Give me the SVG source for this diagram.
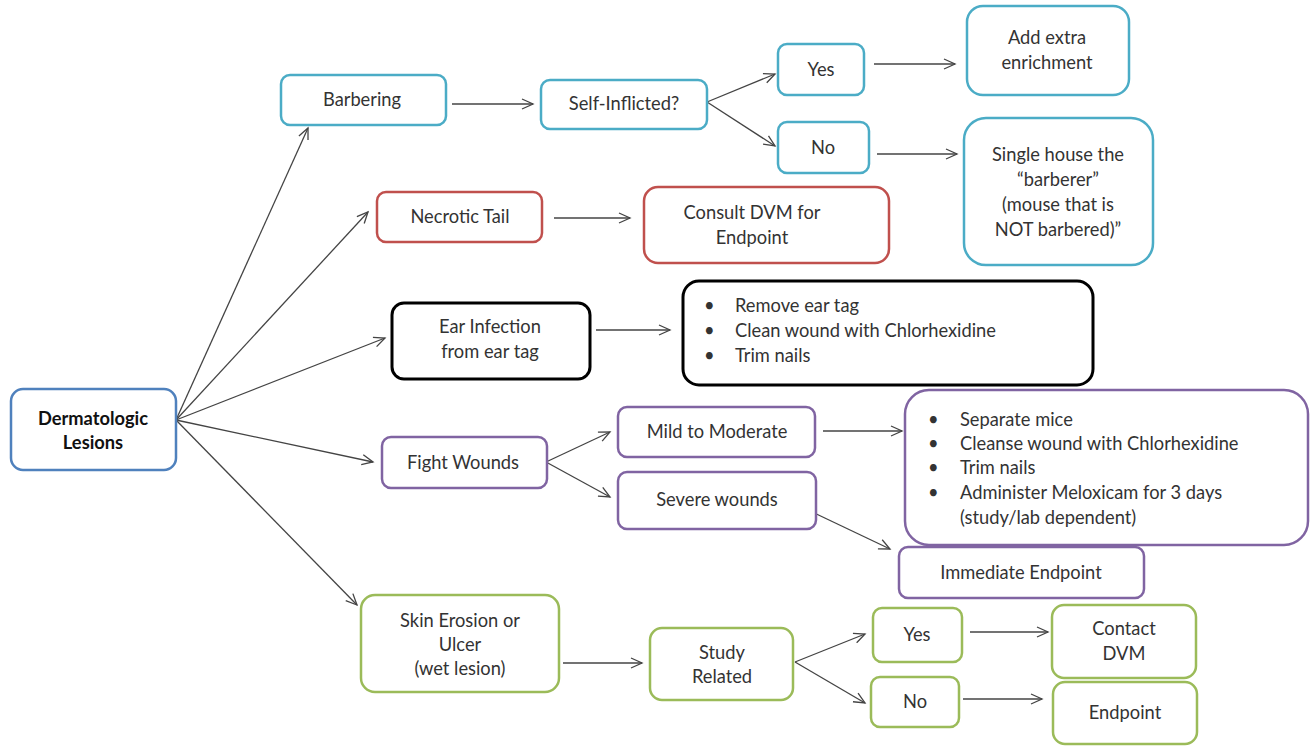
<svg xmlns="http://www.w3.org/2000/svg" width="1312" height="747" viewBox="0 0 1312 747">
<style>
rect{fill:#fff;stroke-width:2.5}
.b{stroke:#4bacc6}.r{stroke:#c0504d}.k{stroke:#000;stroke-width:3}.p{stroke:#8064a2}.g{stroke:#9bbb59}.d{stroke:#4f81bd}
text{font-family:Lato,"Liberation Sans",sans-serif;font-size:18.3px;fill:#333;text-anchor:middle}
.l{text-anchor:start}
.c line{stroke:#444;stroke-width:1.3;marker-end:url(#a)}
</style>
<defs><marker id="a" markerWidth="14" markerHeight="12" refX="12" refY="6" orient="auto" markerUnits="userSpaceOnUse"><path d="M1,1 L12,6 L1,11" fill="none" stroke="#444" stroke-width="1.3"/></marker></defs>
<g class="c">
<line x1="176" y1="420" x2="308" y2="128"/>
<line x1="176" y1="420" x2="368" y2="212"/>
<line x1="176" y1="420" x2="385" y2="338"/>
<line x1="176" y1="420" x2="373" y2="462"/>
<line x1="176" y1="420" x2="357" y2="605"/>
<line x1="452" y1="104" x2="533" y2="104"/>
<line x1="707" y1="102" x2="775" y2="74"/>
<line x1="707" y1="102" x2="775" y2="146"/>
<line x1="874" y1="64" x2="955" y2="64"/>
<line x1="877" y1="154" x2="957" y2="154"/>
<line x1="554" y1="218" x2="630" y2="218"/>
<line x1="596" y1="330" x2="670" y2="330"/>
<line x1="546" y1="462" x2="610" y2="432"/>
<line x1="546" y1="462" x2="610" y2="497"/>
<line x1="823" y1="431" x2="902" y2="431"/>
<line x1="808" y1="510" x2="890" y2="549"/>
<line x1="563" y1="663" x2="642" y2="663"/>
<line x1="795" y1="662" x2="865" y2="634"/>
<line x1="795" y1="662" x2="865" y2="703"/>
<line x1="970" y1="632" x2="1048" y2="632"/>
<line x1="963" y1="699" x2="1042" y2="699"/>
</g>
<g id="derm"><rect class="d" x="11" y="389" width="165" height="81" rx="12"/><text x="93" y="425" font-weight="bold" style="fill:#111">Dermatologic</text><text x="93" y="449" font-weight="bold" style="fill:#111">Lesions</text></g>
<g id="barbering"><rect class="b" x="281" y="75" width="165" height="50" rx="9"/><text x="362" y="106">Barbering</text></g>
<g id="self"><rect class="b" x="541" y="80" width="166" height="49" rx="9"/><text x="624" y="110">Self-Inflicted?</text></g>
<g id="yes1"><rect class="b" x="778" y="44" width="86" height="51" rx="9"/><text x="821" y="76">Yes</text></g>
<g id="no1"><rect class="b" x="778" y="122" width="91" height="51" rx="9"/><text x="823" y="154">No</text></g>
<g id="enrich"><rect class="b" x="967" y="6" width="162" height="89" rx="16"/><text x="1047" y="44">Add extra</text><text x="1047" y="69">enrichment</text></g>
<g id="single"><rect class="b" x="964" y="118" width="189" height="147" rx="22"/><text x="1058" y="161">Single house the</text><text x="1058" y="186">“barberer”</text><text x="1058" y="211">(mouse that is</text><text x="1058" y="236">NOT barbered)”</text></g>
<g id="necrotic"><rect class="r" x="377" y="192" width="165" height="50" rx="9"/><text x="460" y="223">Necrotic Tail</text></g>
<g id="consult"><rect class="r" x="644" y="187" width="245" height="76" rx="14"/><text x="752" y="219">Consult DVM for</text><text x="752" y="244">Endpoint</text></g>
<g id="ear"><rect class="k" x="392" y="303" width="198" height="76" rx="12"/><text x="490" y="333">Ear Infection</text><text x="490" y="358">from ear tag</text></g>
<g id="earsteps"><rect class="k" x="683" y="281" width="410" height="104" rx="16"/>
<text class="l" x="704" y="312">•</text><text class="l" x="735" y="312">Remove ear tag</text>
<text class="l" x="704" y="337">•</text><text class="l" x="735" y="337">Clean wound with Chlorhexidine</text>
<text class="l" x="704" y="362">•</text><text class="l" x="735" y="362">Trim nails</text></g>
<g id="fight"><rect class="p" x="382" y="437" width="165" height="51" rx="9"/><text x="463" y="469">Fight Wounds</text></g>
<g id="mild"><rect class="p" x="618" y="407" width="197" height="50" rx="9"/><text x="717" y="438">Mild to Moderate</text></g>
<g id="severe"><rect class="p" x="618" y="472" width="198" height="57" rx="9"/><text x="717" y="506">Severe wounds</text></g>
<g id="fightsteps"><rect class="p" x="905" y="390" width="403" height="155" rx="24"/>
<text class="l" x="928" y="426">•</text><text class="l" x="960" y="426">Separate mice</text>
<text class="l" x="928" y="450">•</text><text class="l" x="960" y="450">Cleanse wound with Chlorhexidine</text>
<text class="l" x="928" y="474">•</text><text class="l" x="960" y="474">Trim nails</text>
<text class="l" x="928" y="499">•</text><text class="l" x="960" y="499">Administer Meloxicam for 3 days</text>
<text class="l" x="960" y="524">(study/lab dependent)</text></g>
<g id="immediate"><rect class="p" x="899" y="547" width="245" height="51" rx="9"/><text x="1021" y="579">Immediate Endpoint</text></g>
<g id="skin"><rect class="g" x="361" y="595" width="198" height="97" rx="14"/><text x="460" y="627">Skin Erosion or</text><text x="460" y="651">Ulcer</text><text x="460" y="675">(wet lesion)</text></g>
<g id="study"><rect class="g" x="650" y="628" width="143" height="72" rx="12"/><text x="722" y="659">Study</text><text x="722" y="683">Related</text></g>
<g id="yes2"><rect class="g" x="873" y="608" width="89" height="54" rx="9"/><text x="917" y="641">Yes</text></g>
<g id="no2"><rect class="g" x="871" y="677" width="88" height="50" rx="9"/><text x="915" y="708">No</text></g>
<g id="contact"><rect class="g" x="1052" y="605" width="144" height="73" rx="12"/><text x="1124" y="635">Contact</text><text x="1124" y="660">DVM</text></g>
<g id="endpoint"><rect class="g" x="1053" y="682" width="144" height="62" rx="12"/><text x="1125" y="719">Endpoint</text></g>
</svg>
